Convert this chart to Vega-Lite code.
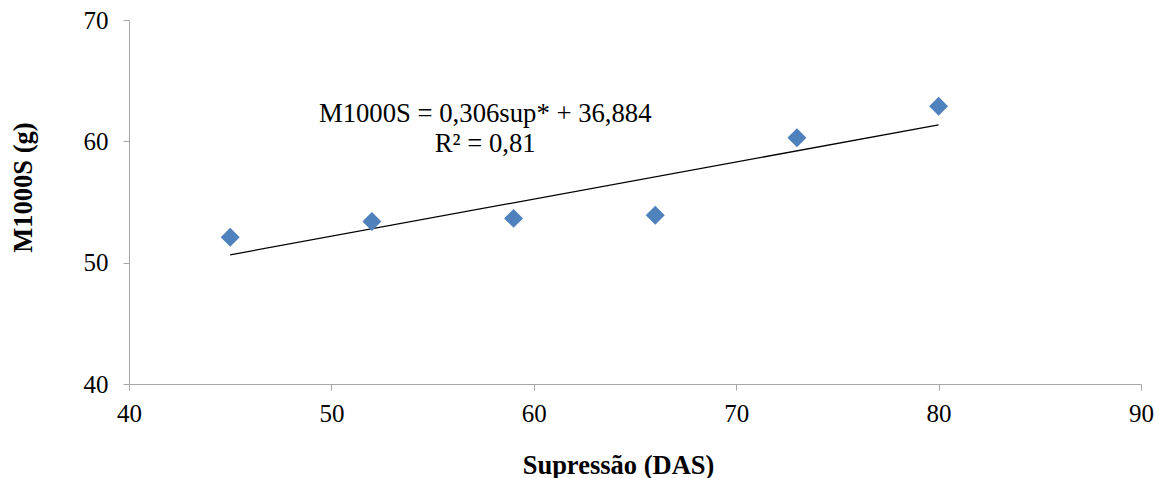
{
  "$schema": "https://vega.github.io/schema/vega-lite/v6.json",
  "width": 1012,
  "height": 364,
  "autosize": {"type": "none"},
  "padding": {"left": 129, "top": 20, "right": 20, "bottom": 94},
  "background": "white",
  "config": {
    "view": {"stroke": null},
    "font": "Liberation Serif",
    "axis": {
      "grid": false,
      "domainColor": "#A6A6A6",
      "tickColor": "#A6A6A6",
      "tickSize": 6,
      "labelFlush": false,
      "labelFont": "Liberation Serif",
      "labelFontSize": 25,
      "labelColor": "black",
      "titleFont": "Liberation Serif",
      "titleFontSize": 26.5,
      "titleFontWeight": "bold",
      "titleColor": "black"
    }
  },
  "datasets": {
    "pts": [
      {"das": 45, "m": 52.1},
      {"das": 52, "m": 53.4},
      {"das": 59, "m": 53.65},
      {"das": 66, "m": 53.9},
      {"das": 73, "m": 60.3},
      {"das": 80, "m": 62.9}
    ],
    "trend": [
      {"das": 45, "m": 50.65},
      {"das": 80, "m": 61.36}
    ],
    "ann": [
      {"das": 57.6, "m": 62.25, "label": "M1000S = 0,306sup* + 36,884"},
      {"das": 57.6, "m": 59.8, "label": "R² = 0,81"}
    ]
  },
  "layer": [
    {
      "data": {"name": "trend"},
      "mark": {"type": "line", "color": "black", "strokeWidth": 1.3},
      "encoding": {
        "x": {"field": "das", "type": "quantitative", "scale": {"domain": [40, 90], "nice": false},
          "axis": {"values": [40, 50, 60, 70, 80, 90], "title": "Supressão (DAS)", "labelPadding": 11,
            "titleX": 489, "titleY": 81, "titleBaseline": "middle", "titleAnchor": "middle", "titleAlign": "center"}},
        "y": {"field": "m", "type": "quantitative", "scale": {"domain": [40, 70], "nice": false, "zero": false},
          "axis": {"values": [40, 50, 60, 70], "title": "M1000S (g)", "labelPadding": 15,
            "titleX": -106, "titleY": 167, "titleAngle": -90, "titleBaseline": "middle", "titleAlign": "center"}}
      }
    },
    {
      "data": {"name": "pts"},
      "mark": {"type": "point", "shape": "diamond", "filled": true, "color": "#4F81BD", "opacity": 1, "size": 360},
      "encoding": {
        "x": {"field": "das", "type": "quantitative"},
        "y": {"field": "m", "type": "quantitative"}
      }
    },
    {
      "data": {"name": "ann"},
      "mark": {"type": "text", "fontSize": 26.7, "font": "Liberation Serif", "color": "black", "align": "center", "baseline": "middle"},
      "encoding": {
        "x": {"field": "das", "type": "quantitative"},
        "y": {"field": "m", "type": "quantitative"},
        "text": {"field": "label"}
      }
    }
  ]
}
